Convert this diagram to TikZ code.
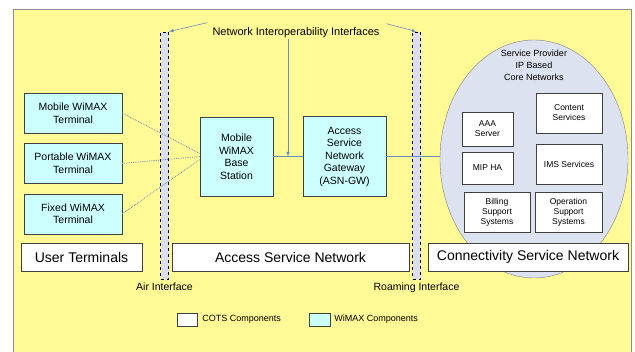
\documentclass[tikz,border=0pt]{standalone}
\usepackage{fontspec}
\setmainfont{Liberation Sans}
\usepackage{tikz}
\usetikzlibrary{shapes.geometric, arrows, positioning, calc}

\definecolor{bgyellow}{RGB}{255,250,150}
\definecolor{wimaxcyan}{RGB}{204,255,255}
\definecolor{corefill}{RGB}{220,226,240}
\definecolor{barfill}{RGB}{218,222,238}
\definecolor{linkblue}{RGB}{110,140,185}

\begin{document}
\begin{tikzpicture}[
    x=1pt, y=-1pt,
    every node/.style={inner sep=1pt, font=\fontsize{10.5}{12.5}\selectfont},
    wimax/.style={rectangle, draw=black!75, fill=wimaxcyan, align=center},
    cots/.style={rectangle, draw=black!75, fill=white, align=center},
    core/.style={rectangle, draw=black!75, fill=white, align=center, font=\fontsize{8.5}{10}\selectfont},
    big/.style={cots, font=\fontsize{14}{16}\selectfont, minimum height=28pt},
    ifbar/.style={rectangle, draw=black, thick, dashed, fill=barfill, minimum width=8pt, minimum height=247pt, inner sep=0pt},
    note/.style={font=\fontsize{10.5}{12}\selectfont},
    small/.style={font=\fontsize{9}{12}\selectfont},
    arrow/.style={->, >=latex, semithick, linkblue},
    radio/.style={densely dotted, linkblue, thick},
    link/.style={linkblue, thick}
]
% --- page and yellow frame ---
\useasboundingbox (0,0) rectangle (635,351);
\begin{scope}
\clip (0,0) rectangle (635,351);
\draw[black!45, fill=bgyellow] (13,9) rectangle (631,356);
\end{scope}

% --- interface bars ---
\node[ifbar] (airbar)  at (164.5,155.5) {};
\node[ifbar] (roambar) at (416.5,155.5) {};
\node[note, below=2pt of airbar]  (airif)  {Air Interface};
\node[note, below=2pt of roambar] (roamif) {Roaming Interface};
\node[note, font=\fontsize{11}{12}\selectfont] (nii) at (296,33) {Network Interoperability Interfaces};

% --- user terminals ---
\node[wimax, minimum width=98pt, minimum height=40pt] (mob) at (73,113) {Mobile WiMAX\\Terminal};
\node[wimax, minimum width=98pt, minimum height=40pt, below=10pt of mob]  (port)  {Portable WiMAX\\Terminal};
\node[wimax, minimum width=98pt, minimum height=40pt, below=10pt of port] (fixed) {Fixed WiMAX\\Terminal};

% --- access service network ---
\node[wimax, minimum width=73pt, minimum height=79pt] (bs) at (236.5,156.5) {Mobile\\WiMAX\\Base\\Station};
\node[wimax, minimum width=83pt, minimum height=80pt] (gw) at (344.5,156.5) {Access\\Service\\Network\\Gateway\\(ASN-GW)};

% --- connectivity service network ---
\node[ellipse, draw=black!50, fill=corefill, minimum width=188pt, minimum height=238pt, inner sep=0pt] (cloud) at (534,159) {};
\node[small, align=center] (spcore) at (534,65) {Service Provider\\IP Based\\Core Networks};
\node[core, minimum width=51pt, minimum height=34pt] (aaa)     at (487.5,129) {AAA\\Server};
\node[core, minimum width=66pt, minimum height=40pt] (content) at (569,113)   {Content\\Services};
\node[core, minimum width=51pt, minimum height=32pt] (miphA)   at (487.5,168) {MIP HA};
\node[core, minimum width=66pt, minimum height=40pt] (ims)     at (569,164)   {IMS Services};
\node[core, minimum width=66pt, minimum height=40pt] (bss)     at (497,212)   {Billing\\Support\\Systems};
\node[core, minimum width=67pt, minimum height=40pt] (oss)     at (568.5,212) {Operation\\Support\\Systems};

% --- section labels ---
\node[big, minimum width=121pt] (utlbl)  at (81.5,257)  {User Terminals};
\node[big, minimum width=237pt] (asnlbl) at (290.5,257) {Access Service Network};
\node[big, minimum width=200pt] (csnlbl) at (528,257)   {Connectivity Service Network};

% --- legend ---
\node[cots, minimum width=20pt, minimum height=13pt] (cotskey) at (187,319.5) {};
\node[small, right=4pt of cotskey] (cotstxt) {COTS Components};
\node[wimax, minimum width=21pt, minimum height=13pt] (wimaxkey) at (319.5,319.5) {};
\node[small, right=3pt of wimaxkey] (wimaxtxt) {WiMAX Components};

% --- connections ---
\draw[radio] (mob.east)   -- ([yshift=3pt]bs.west);
\draw[radio] (port.east)  -- (bs.west);
\draw[radio] (fixed.east) -- ([yshift=-3pt]bs.west);
\draw[link] (bs) -- coordinate[midway] (bsgw) (gw);
\draw[link] (gw.east) -- (gw.east -| cloud.west);
\draw[arrow] (nii.south -| bsgw) -- (bsgw);
\draw[arrow] ([shift={(-4pt,4pt)}]nii.north west) -- (airbar.north east);
\draw[arrow] ([shift={(6pt,3pt)}]nii.north east) -- (roambar.north);
\end{tikzpicture}
\end{document}
